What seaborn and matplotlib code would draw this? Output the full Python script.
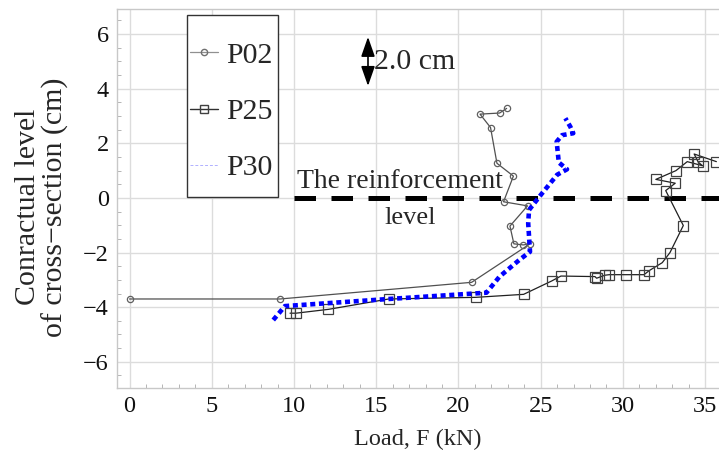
import matplotlib
matplotlib.use("Agg")
import matplotlib.pyplot as plt
import seaborn as sns
import pandas as pd
from matplotlib.lines import Line2D
from matplotlib.patches import Rectangle
from matplotlib.ticker import MultipleLocator

# ---- data ----
p02_load = [0, 9.15, 20.8, 24.35, 23.94, 23.37, 23.13, 24.2, 22.74, 23.34, 22.34, 21.95, 21.31, 22.5, 22.93]
p02_level = [-3.70, -3.70, -3.09, -1.68, -1.72, -1.68, -1.03, -0.29, -0.14, 0.80, 1.27, 2.58, 3.07, 3.11, 3.28]

p25_load = [9.76, 10.12, 12.09, 15.76, 21.05, 23.96, 25.67, 26.23, 28.3, 28.4, 28.9, 29.17, 30.18,
            31.28, 31.6, 32.39, 32.86, 33.67, 32.6, 33.18, 32.0, 33.22, 33.91, 34.84, 34.58, 34.33, 35.68]
p25_level = [-4.22, -4.22, -4.08, -3.70, -3.64, -3.53, -3.04, -2.86, -2.88, -2.94, -2.83, -2.81, -2.81,
             -2.81, -2.66, -2.37, -2.0, -1.01, 0.27, 0.54, 0.68, 1.0, 1.33, 1.18, 1.31, 1.61, 1.33]

p30_load = [8.74, 9.45, 15.76, 21.7, 22.5, 23.7, 24.35, 24.24, 24.29, 24.95, 26.0, 26.6, 26.1, 25.97,
            26.3, 26.98, 26.8, 26.5]
p30_level = [-4.47, -3.96, -3.70, -3.47, -2.88, -2.27, -1.97, -0.93, -0.44, 0.07, 0.85, 1.05, 1.3, 2.06,
             2.3, 2.37, 2.61, 2.92]

reinf_load = [10, 36]
reinf_level = [0, 0]

series_names = ["P02", "P25", "P30"]
x_ticks = [0, 5, 10, 15, 20, 25, 30, 35]
y_ticks = [-6, -4, -2, 0, 2, 4, 6]

sns.set_theme(style="whitegrid")
plt.rcParams["font.family"] = ["Liberation Serif", "DejaVu Serif"]

fig = plt.figure(figsize=(7.19, 4.58), dpi=100)
ax = fig.add_axes([117 / 719, 1 - 388 / 458, 602 / 719, 379 / 458])

df02 = pd.DataFrame({"load": p02_load, "level": p02_level})
df25 = pd.DataFrame({"load": p25_load, "level": p25_level})
df30 = pd.DataFrame({"load": p30_load, "level": p30_level})
dfr = pd.DataFrame({"load": reinf_load, "level": reinf_level})

sns.lineplot(data=dfr, x="load", y="level", sort=False, estimator=None, ax=ax,
             color="black", lw=3.6, zorder=2)
ax.lines[-1].set_dashes((4.3, 3.1))

sns.lineplot(data=df02, x="load", y="level", sort=False, estimator=None, ax=ax,
             color="#505050", lw=0.9, marker="o", markersize=4.5, markerfacecolor="none",
             markeredgecolor="#606060", markeredgewidth=0.9, zorder=3)
sns.lineplot(data=df25, x="load", y="level", sort=False, estimator=None, ax=ax,
             color="#202020", lw=0.9, marker="s", markersize=7, markerfacecolor="none",
             markeredgecolor="#404040", markeredgewidth=0.9, zorder=3)
sns.lineplot(data=df30, x="load", y="level", sort=False, estimator=None, ax=ax,
             color="#0000ff", lw=3.3, zorder=4)
ax.lines[-1].set_dashes((1.1, 0.8))

ax.set_xlim(-0.76, 35.84)
ax.set_ylim(-6.96, 6.92)
ax.set_xticks(x_ticks)
ax.set_yticks(y_ticks)
ax.xaxis.set_minor_locator(MultipleLocator(1))
ax.yaxis.set_minor_locator(MultipleLocator(0.5))
ax.grid(True, which="major", color="#dcdcdc", lw=1.0)
ax.grid(False, which="minor")
ax.tick_params(axis="both", which="major", labelsize=17.5, length=0, pad=6, colors="#111111")
ax.tick_params(axis="both", which="minor", direction="in", length=3, width=0.6, color="#aaaaaa",
               bottom=True, left=True)
for s in ["left", "top", "bottom"]:
    ax.spines[s].set_color("#c8c8c8")
    ax.spines[s].set_linewidth(1.0)
ax.spines["right"].set_visible(False)

ax.set_xlabel("Load, F (kN)", fontsize=17.5, labelpad=8)
ax.set_ylabel("Conractual level\nof cross\u2212section (cm)", fontsize=21.5, linespacing=1.02)
ax.yaxis.set_label_coords(-0.08, 0.478)

# annotations
ax.annotate("", xy=(14.5, 6.0), xytext=(14.5, 4.0),
            arrowprops=dict(arrowstyle="<|-|>,head_length=1.0,head_width=0.35", color="black", lw=1.2))
ax.text(14.85, 4.98, "2.0 cm", fontsize=21.5, va="center", ha="left")
ax.text(16.45, 0.6, "The reinforcement", fontsize=20, va="center", ha="center")
ax.text(17.05, -0.75, "level", fontsize=19, va="center", ha="center")

handles = [
    Line2D([], [], color="#909090", lw=0.9, marker="o", markersize=4.5, markerfacecolor="none",
           markeredgecolor="#707070"),
    Line2D([], [], color="#303030", lw=1.0, marker="s", markersize=6, markerfacecolor="none",
           markeredgecolor="#404040"),
    Line2D([], [], color="#b0b0ff", lw=0.7, ls=(0, (3, 2))),
]
leg = ax.legend(handles, series_names, loc="upper left", bbox_to_anchor=(73 / 602, 1 - 33 / 379),
                frameon=False, fontsize=21.5, handlelength=0.95, handletextpad=0.25,
                labelspacing=0.98, borderpad=0, borderaxespad=0)
ax.add_patch(Rectangle((70 / 602, 1 - 188 / 379), 91 / 602, 182 / 379, transform=ax.transAxes,
                       facecolor="white", edgecolor="#333333", lw=1.0, zorder=5))
leg.set_zorder(6)

fig.savefig("out.png", dpi=100)
